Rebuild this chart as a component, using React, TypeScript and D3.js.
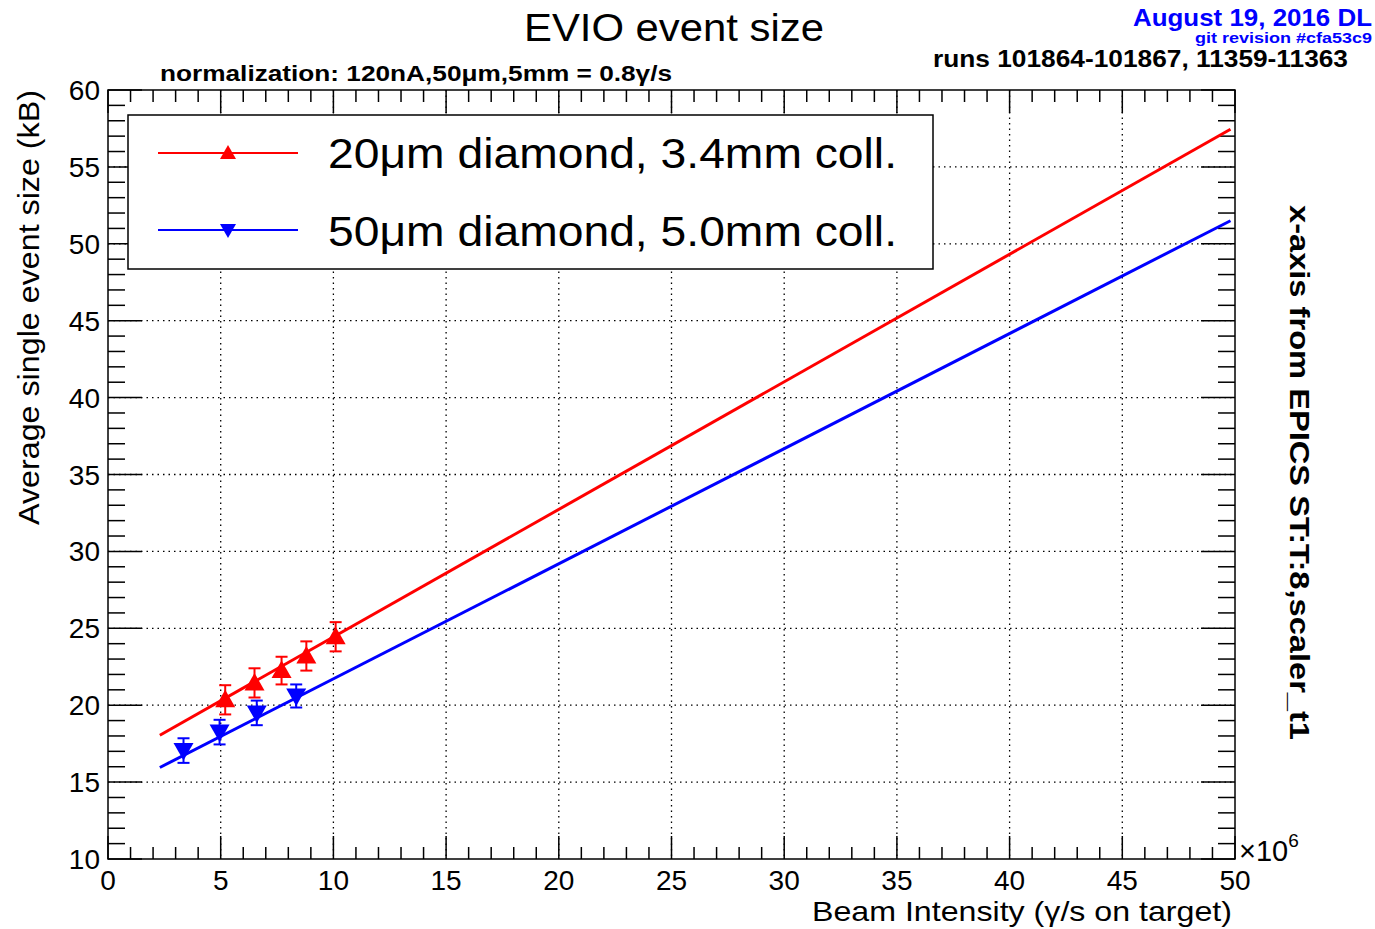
import React from 'react';
import * as d3 from 'd3';

// measured points (x in units of 10^6 γ/s)
const redX = [5.2, 6.5, 7.7, 8.8, 10.1];
const redY = [20.35, 21.45, 22.25, 23.2, 24.45];
const redErr = [0.95, 0.95, 0.9, 0.95, 0.95];

const blueX = [3.35, 4.95, 6.6, 8.35];
const blueY = [17.05, 18.25, 19.5, 20.6];
const blueErr = [0.8, 0.8, 0.8, 0.75];

// linear fit end points
const fitX = [2.3, 49.8];
const redFit = [18.05, 57.45];
const blueFit = [15.95, 51.5];

const xTicks = [0, 5, 10, 15, 20, 25, 30, 35, 40, 45, 50];
const yTicks = [10, 15, 20, 25, 30, 35, 40, 45, 50, 55, 60];

const W = 1375;
const H = 929;
const left = 108, right = 1235, top = 90, bottom = 859;
const FONT = '"Liberation Sans", Arial, Helvetica, sans-serif';

export default function App() {
  const x = d3.scaleLinear().domain([0, 50]).range([left, right]);
  const y = d3.scaleLinear().domain([10, 60]).range([bottom, top]);

  const minorX = d3.range(0, 51, 1);
  const minorY = d3.range(10, 61, 1);
  const xMajorLen = 23, xMinorLen = 12;
  const yMajorLen = 34, yMinorLen = 17;

  const line = d3.line<[number, number]>().x(d => x(d[0])).y(d => y(d[1]));
  const redLine = line(fitX.map((v, i) => [v, redFit[i]]) as [number, number][]) || '';
  const blueLine = line(fitX.map((v, i) => [v, blueFit[i]]) as [number, number][]) || '';

  const triUp = (cx: number, cy: number, s = 10) => `M${cx},${cy - s} L${cx + s},${cy + s * 0.75} L${cx - s},${cy + s * 0.75} Z`;
  const triDown = (cx: number, cy: number, s = 10) => `M${cx},${cy + s} L${cx + s},${cy - s * 0.75} L${cx - s},${cy - s * 0.75} Z`;

  const errBar = (px: number, py: number, e: number, color: string, key: string) => (
    <g key={key} stroke={color} strokeWidth={2}>
      <line x1={x(px)} x2={x(px)} y1={y(py - e)} y2={y(py + e)} />
      <line x1={x(px) - 6} x2={x(px) + 6} y1={y(py - e)} y2={y(py - e)} />
      <line x1={x(px) - 6} x2={x(px) + 6} y1={y(py + e)} y2={y(py + e)} />
    </g>
  );

  const fit = { lengthAdjust: 'spacingAndGlyphs' as const };

  return (
    <svg width={W} height={H} style={{ position: 'absolute', left: 0, top: 0, background: '#fff' }} fontFamily={FONT}>
      <rect x={0} y={0} width={W} height={H} fill="#fff" />

      {/* grid */}
      <g stroke="#000" strokeWidth={1.3} strokeDasharray="1.5,4">
        {xTicks.slice(1, -1).map(t => (
          <line key={'gx' + t} x1={x(t)} x2={x(t)} y1={top} y2={bottom} />
        ))}
        {yTicks.slice(1, -1).map(t => (
          <line key={'gy' + t} x1={left} x2={right} y1={y(t)} y2={y(t)} />
        ))}
      </g>

      {/* ticks */}
      <g stroke="#000" strokeWidth={1.5}>
        {minorX.map(t => {
          const len = t % 5 === 0 ? xMajorLen : xMinorLen;
          return (
            <g key={'tx' + t}>
              <line x1={x(t)} x2={x(t)} y1={bottom} y2={bottom - len} />
              <line x1={x(t)} x2={x(t)} y1={top} y2={top + len} />
            </g>
          );
        })}
        {minorY.map(t => {
          const len = t % 5 === 0 ? yMajorLen : yMinorLen;
          return (
            <g key={'ty' + t}>
              <line x1={left} x2={left + len} y1={y(t)} y2={y(t)} />
              <line x1={right} x2={right - len} y1={y(t)} y2={y(t)} />
            </g>
          );
        })}
      </g>

      {/* fits */}
      <path d={redLine} stroke="#ff0000" strokeWidth={3} fill="none" />
      <path d={blueLine} stroke="#0000ff" strokeWidth={3} fill="none" />

      {/* data */}
      {redX.map((v, i) => errBar(v, redY[i], redErr[i], '#ff0000', 're' + i))}
      {redX.map((v, i) => (
        <path key={'rm' + i} d={triUp(x(v), y(redY[i]))} fill="#ff0000" />
      ))}
      {blueX.map((v, i) => errBar(v, blueY[i], blueErr[i], '#0000ff', 'be' + i))}
      {blueX.map((v, i) => (
        <path key={'bm' + i} d={triDown(x(v), y(blueY[i]))} fill="#0000ff" />
      ))}

      {/* frame */}
      <rect x={left} y={top} width={right - left} height={bottom - top} fill="none" stroke="#000" strokeWidth={1.5} />

      {/* tick labels */}
      <g fontSize={28} fill="#000">
        {xTicks.map(t => (
          <text key={'lx' + t} x={x(t)} y={bottom + 31} textAnchor="middle">{t}</text>
        ))}
        {yTicks.map(t => (
          <text key={'ly' + t} x={left - 8} y={y(t) + 10} textAnchor="end">{t}</text>
        ))}
      </g>
      <text x={right + 4} y={bottom + 2} fontSize={29}>×10<tspan fontSize={19} dy={-14}>6</tspan></text>

      {/* axis titles */}
      <text x={812} y={921} fontSize={28} textLength={420} {...fit}>Beam Intensity (γ/s on target)</text>
      <text transform={`translate(39,${top}) rotate(-90)`} fontSize={29} textAnchor="end" textLength={435} {...fit}>Average single event size (kB)</text>
      <text transform={`translate(1290,205) rotate(90)`} fontSize={28} fontWeight="bold" textLength={535} {...fit}>x-axis from EPICS ST:T:8,scaler_t1</text>

      {/* titles */}
      <text x={524} y={41} fontSize={39} textLength={300} {...fit}>EVIO event size</text>
      <text x={160} y={81} fontSize={22} fontWeight="bold" textLength={512} {...fit}>normalization: 120nA,50μm,5mm = 0.8γ/s</text>
      <text x={1133} y={26} fontSize={24} fontWeight="bold" fill="#0000ff" textLength={239} {...fit}>August 19, 2016 DL</text>
      <text x={1195} y={43} fontSize={15} fontWeight="bold" fill="#0000ff" textLength={177} {...fit}>git revision #cfa53c9</text>
      <text x={933} y={67} fontSize={23} fontWeight="bold" textLength={415} {...fit}>runs 101864-101867, 11359-11363</text>

      {/* legend */}
      <rect x={128} y={115} width={805} height={154} fill="#fff" stroke="#000" strokeWidth={1.5} />
      <line x1={158} x2={298} y1={153} y2={153} stroke="#ff0000" strokeWidth={2} />
      <path d={triUp(228, 153, 8)} fill="#ff0000" />
      <text x={328} y={168} fontSize={43} textLength={569} {...fit}>20μm diamond, 3.4mm coll.</text>
      <line x1={158} x2={298} y1={230} y2={230} stroke="#0000ff" strokeWidth={2} />
      <path d={triDown(228, 230, 8)} fill="#0000ff" />
      <text x={328} y={246} fontSize={43} textLength={569} {...fit}>50μm diamond, 5.0mm coll.</text>
    </svg>
  );
}
